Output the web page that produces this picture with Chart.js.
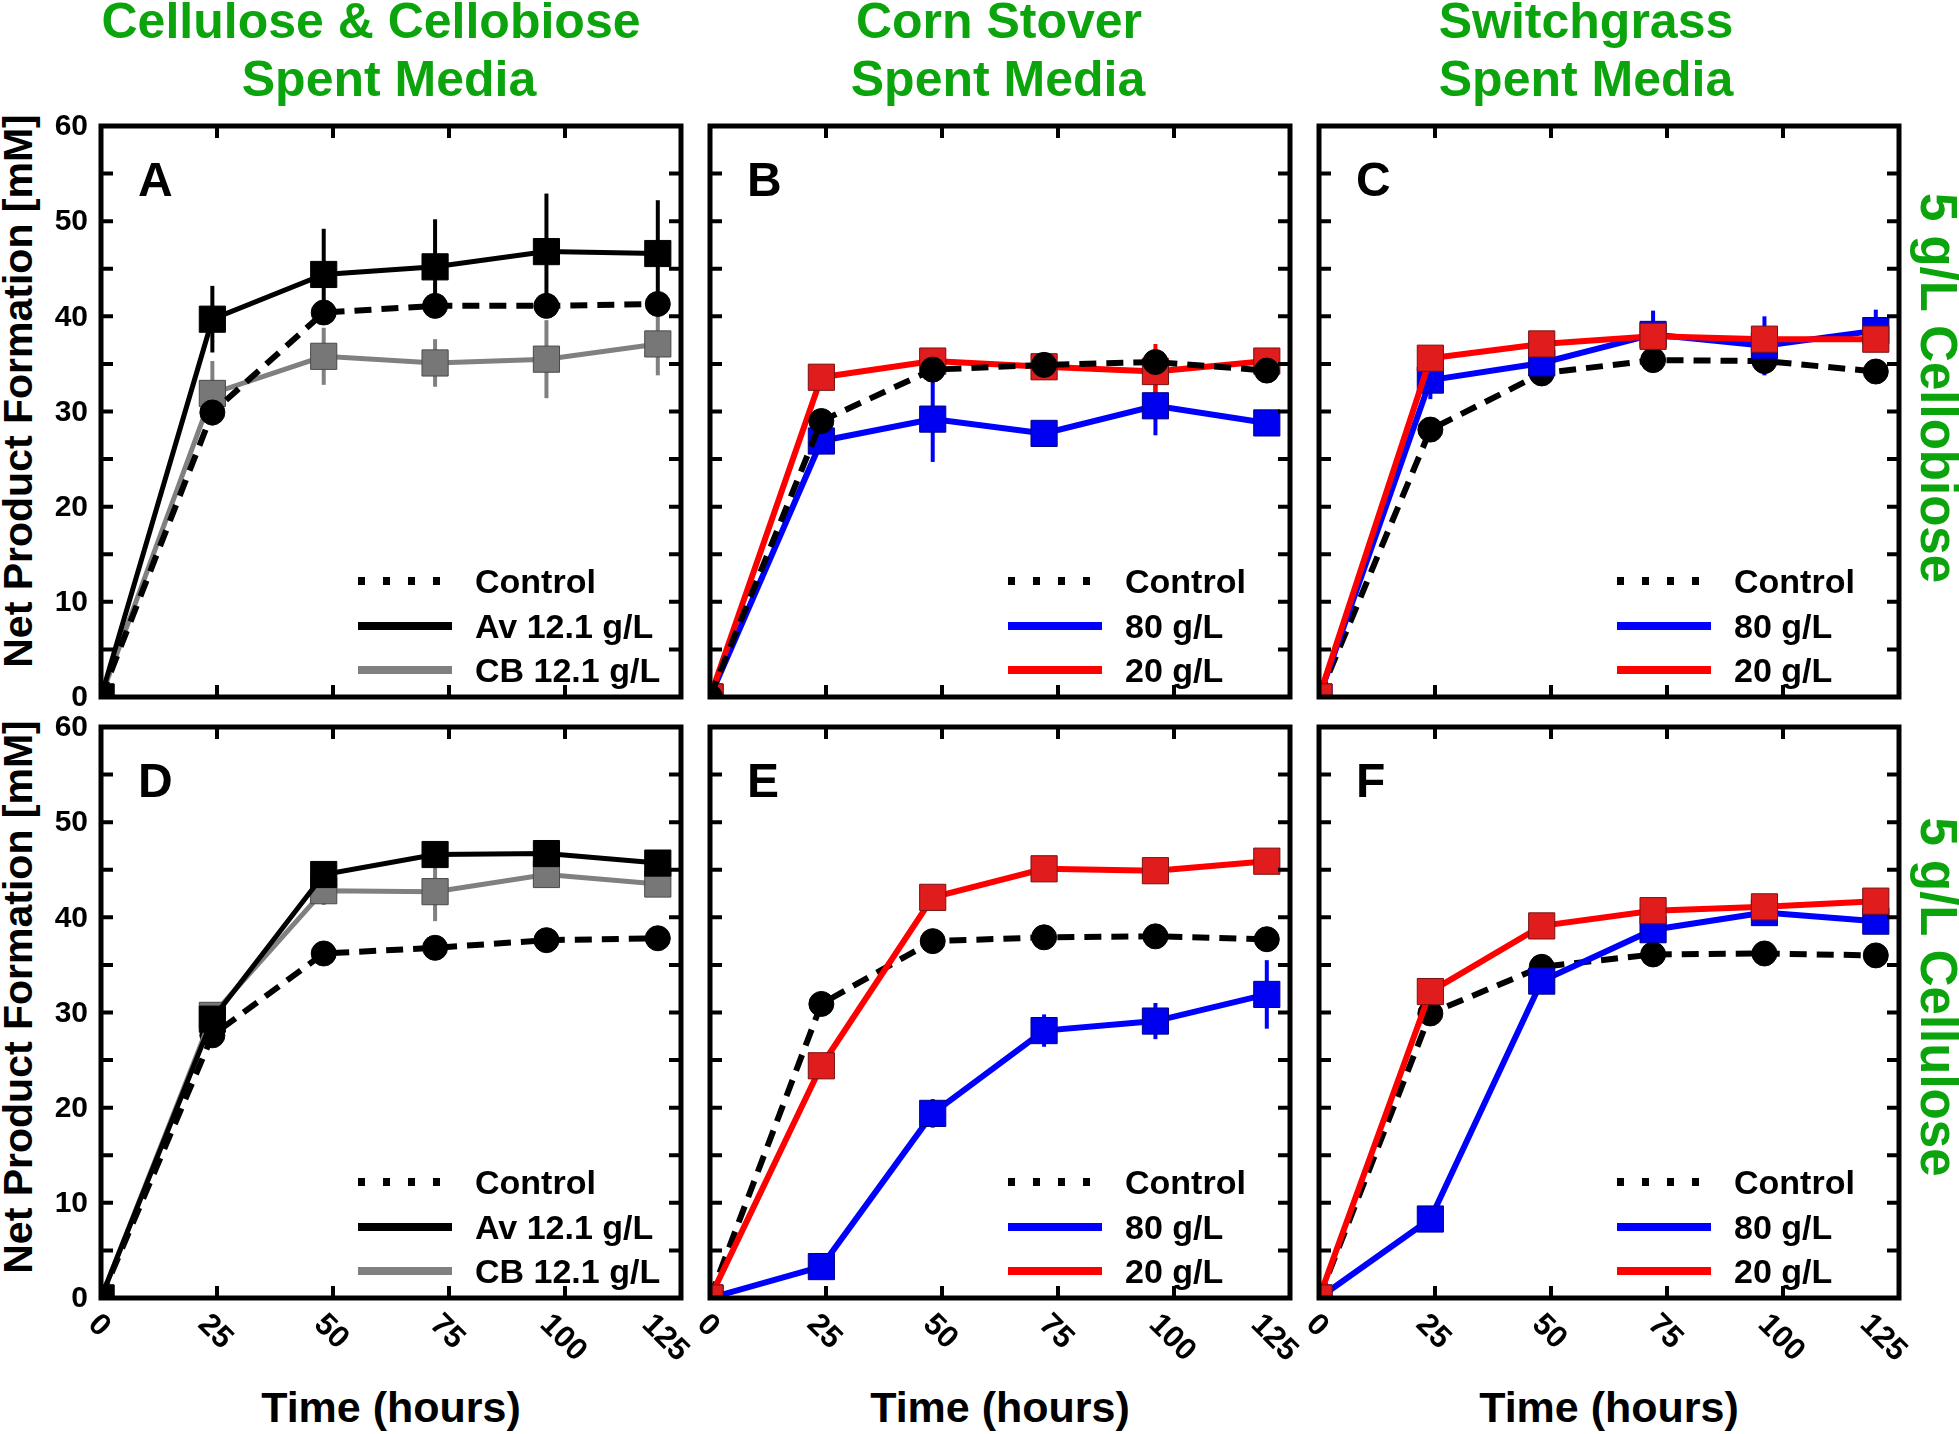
<!DOCTYPE html>
<html>
<head>
<meta charset="utf-8">
<script src="https://cdn.jsdelivr.net/npm/chart.js@4/dist/chart.umd.min.js"></script>
<style>
  body { margin: 0; width: 1959px; height: 1434px; background: #fff; position: relative; overflow: hidden;
         font-family: "Liberation Sans", Arial, sans-serif; font-weight: bold; }
  canvas { position: absolute; }
  .lbl { position: absolute; white-space: nowrap; line-height: 1; transform: translate(-50%, -50%); color: #000; }
  .green { color: #0ca40c; font-size: 50px; }
  .ylab { font-size: 41px; transform: translate(-50%, -50%) rotate(-90deg); }
  .rlab { font-size: 51px; transform: translate(-50%, -50%) rotate(90deg); }
  .xlab { font-size: 43px; }
</style>
</head>
<body>
<div class="lbl green" style="left:371px;top:21px">Cellulose &amp; Cellobiose</div>
<div class="lbl green" style="left:389px;top:79px">Spent Media</div>
<div class="lbl green" style="left:999px;top:21px">Corn Stover</div>
<div class="lbl green" style="left:998px;top:79px">Spent Media</div>
<div class="lbl green" style="left:1586px;top:21px">Switchgrass</div>
<div class="lbl green" style="left:1586px;top:79px">Spent Media</div>
<div class="lbl green rlab" style="left:1938px;top:388px">5 g/L Cellobiose</div>
<div class="lbl green rlab" style="left:1938px;top:997px">5 g/L Cellulose</div>
<div class="lbl ylab" style="left:18px;top:391px">Net Product Formation [mM]</div>
<div class="lbl ylab" style="left:18px;top:997px">Net Product Formation [mM]</div>
<div class="lbl xlab" style="left:391px;top:1407px">Time (hours)</div>
<div class="lbl xlab" style="left:1000px;top:1407px">Time (hours)</div>
<div class="lbl xlab" style="left:1609px;top:1407px">Time (hours)</div>

<script>
// sampling times (hours) and axis ticks
const times = [0, 24, 48, 72, 96, 120];
const xTickLabels = [0, 25, 50, 75, 100, 125];
const yTicks = [0, 5, 10, 15, 20, 25, 30, 35, 40, 45, 50, 55, 60];
const yTickLabels = [0, 10, 20, 30, 40, 50, 60];

// A - cellulose & cellobiose spent media, 5 g/L cellobiose
const ctrlA = [0, 29.9, 40.4, 41.1, 41.1, 41.3];
const avA = [0, 39.7, 44.4, 45.2, 46.8, 46.6];
const avAErr = [0, 3.5, 4.8, 5.0, 6.1, 5.6];
const cbA = [0, 31.9, 35.8, 35.1, 35.5, 37.1];
const cbAErr = [0, 3.4, 3.0, 2.5, 4.1, 3.3];

// B - corn stover, cellobiose
const ctrlB = [0, 29.0, 34.4, 34.9, 35.2, 34.3];
const s80B = [0, 26.9, 29.2, 27.7, 30.6, 28.8];
const s80BErr = [0, 1.0, 4.5, 0.8, 3.1, 0.8];
const s20B = [0, 33.6, 35.3, 34.7, 34.2, 35.3];
const s20BErr = [0, 0.8, 1.3, 0.8, 2.9, 0.6];

// C - switchgrass, cellobiose
const ctrlC = [0, 28.1, 34.0, 35.4, 35.3, 34.2];
const s80C = [0, 33.3, 35.1, 38.1, 36.9, 38.5];
const s80CErr = [0, 2.0, 1.0, 2.5, 3.1, 2.2];
const s20C = [0, 35.6, 37.1, 37.9, 37.6, 37.6];
const s20CErr = [0, 0.5, 0.5, 0.5, 0.5, 0.5];

// D - cellulose & cellobiose spent media, 5 g/L cellulose
const ctrlD = [0, 27.6, 36.2, 36.8, 37.6, 37.8];
const avD = [0, 29.3, 44.5, 46.6, 46.7, 45.7];
const avDErr = [0, 0.8, 0.8, 0.8, 0.8, 0.8];
const cbD = [0, 29.7, 42.8, 42.7, 44.5, 43.5];
const cbDErr = [0, 1.0, 1.5, 3.1, 0.8, 0.8];

// E - corn stover, cellulose
const ctrlE = [0, 30.9, 37.5, 37.9, 38.0, 37.7];
const s80E = [0, 3.3, 19.4, 28.1, 29.1, 31.9];
const s80EErr = [0, 0.5, 1.5, 1.7, 1.9, 3.6];
const s20E = [0, 24.4, 42.1, 45.1, 44.9, 45.9];
const s20EErr = [0, 0.5, 0.5, 0.5, 0.5, 0.5];

// F - switchgrass, cellulose
const ctrlF = [0, 29.9, 34.8, 36.1, 36.2, 36.0];
const s80F = [0, 8.3, 33.3, 38.7, 40.5, 39.6];
const s80FErr = [0, 0.5, 0.8, 0.8, 0.5, 0.5];
const s20F = [0, 32.2, 39.1, 40.7, 41.1, 41.7];
const s20FErr = [0, 0.5, 0.5, 0.5, 0.8, 0.5];

const FONT = '"Liberation Sans", Arial, sans-serif';
const colX = [101, 710, 1319];
const rowY = [126, 727];
const PW = 580, PH = 571;
const PAD = { left: 100, right: 20, top: 20, bottom: 110 };

const styles = {
  ctrl: { line: '#000', fill: '#000', edge: '#000', dash: [17, 10], width: 6, marker: 'circle', r: 12.5 },
  av:   { line: '#000', fill: '#000', edge: '#000', dash: [], width: 5, marker: 'rect', r: 18.5 },
  cb:   { line: '#808080', fill: '#777', edge: '#4a4a4a', dash: [], width: 5, marker: 'rect', r: 18.5 },
  g80:  { line: '#0000ff', fill: '#0000f0', edge: '#00008a', dash: [], width: 6, marker: 'rect', r: 18.5 },
  g20:  { line: '#ff0000', fill: '#e01c1c', edge: '#7a1010', dash: [], width: 6, marker: 'rect', r: 18.5 }
};

function series(label, vals, err, style, z) {
  return { label, vals, err, style, z };
}

const panels = [
  { letter: 'A', col: 0, row: 0, legendRight: 206, series: [
    series('Control', ctrlA, null, 'ctrl', 2),
    series('Av 12.1 g/L', avA, avAErr, 'av', 3),
    series('CB 12.1 g/L', cbA, cbAErr, 'cb', 1)] },
  { letter: 'B', col: 1, row: 0, legendRight: 165, series: [
    series('Control', ctrlB, null, 'ctrl', 3),
    series('80 g/L', s80B, s80BErr, 'g80', 1),
    series('20 g/L', s20B, s20BErr, 'g20', 2)] },
  { letter: 'C', col: 2, row: 0, legendRight: 165, series: [
    series('Control', ctrlC, null, 'ctrl', 1),
    series('80 g/L', s80C, s80CErr, 'g80', 2),
    series('20 g/L', s20C, s20CErr, 'g20', 3)] },
  { letter: 'D', col: 0, row: 1, legendRight: 206, series: [
    series('Control', ctrlD, null, 'ctrl', 1),
    series('Av 12.1 g/L', avD, avDErr, 'av', 3),
    series('CB 12.1 g/L', cbD, cbDErr, 'cb', 2)] },
  { letter: 'E', col: 1, row: 1, legendRight: 165, series: [
    series('Control', ctrlE, null, 'ctrl', 1),
    series('80 g/L', s80E, s80EErr, 'g80', 2),
    series('20 g/L', s20E, s20EErr, 'g20', 3)] },
  { letter: 'F', col: 2, row: 1, legendRight: 165, series: [
    series('Control', ctrlF, null, 'ctrl', 1),
    series('80 g/L', s80F, s80FErr, 'g80', 2),
    series('20 g/L', s20F, s20FErr, 'g20', 3)] }
];

// error bars under the lines, frame / ticks / labels / legend on top
const panelDeco = {
  id: 'panelDeco',
  beforeDatasetsDraw(chart) {
    const ctx = chart.ctx, xs = chart.scales.x, ys = chart.scales.y, a = chart.chartArea;
    ctx.save();
    ctx.beginPath();
    ctx.rect(a.left, a.top, a.right - a.left, a.bottom - a.top);
    ctx.clip();
    ctx.lineWidth = 4;
    chart.data.datasets.forEach(ds => {
      if (!ds.err) return;
      ctx.strokeStyle = ds.borderColor;
      ds.data.forEach((p, i) => {
        const e = ds.err[i];
        if (!e) return;
        const x = xs.getPixelForValue(p.x);
        ctx.beginPath();
        ctx.moveTo(x, ys.getPixelForValue(p.y - e));
        ctx.lineTo(x, ys.getPixelForValue(p.y + e));
        ctx.stroke();
      });
    });
    ctx.restore();
  },
  afterDraw(chart, args, opts) {
    const ctx = chart.ctx, xs = chart.scales.x, ys = chart.scales.y, a = chart.chartArea;
    const p = opts.panel;
    ctx.save();
    ctx.strokeStyle = '#000';
    ctx.fillStyle = '#000';

    // inward ticks on all four sides
    ctx.lineWidth = 4;
    ctx.beginPath();
    yTicks.forEach(v => {
      const y = ys.getPixelForValue(v);
      ctx.moveTo(a.left, y); ctx.lineTo(a.left + 12, y);
      ctx.moveTo(a.right, y); ctx.lineTo(a.right - 12, y);
    });
    xTickLabels.forEach(v => {
      const x = xs.getPixelForValue(v);
      ctx.moveTo(x, a.bottom); ctx.lineTo(x, a.bottom - 12);
      ctx.moveTo(x, a.top); ctx.lineTo(x, a.top + 12);
    });
    ctx.stroke();

    ctx.lineWidth = 5;
    ctx.lineJoin = 'miter';
    ctx.strokeRect(a.left, a.top, a.right - a.left, a.bottom - a.top);

    // y tick labels (left column only)
    if (p.col === 0) {
      ctx.font = 'bold 30px ' + FONT;
      ctx.textAlign = 'right';
      ctx.textBaseline = 'middle';
      yTickLabels.forEach(v => ctx.fillText(String(v), a.left - 13, ys.getPixelForValue(v) + 1));
    }

    // rotated x tick labels (bottom row only)
    if (p.row === 1) {
      ctx.font = 'bold 31px ' + FONT;
      ctx.textAlign = 'center';
      ctx.textBaseline = 'middle';
      xTickLabels.forEach((v, i) => {
        const t = String(v);
        const w = ctx.measureText(t).width;
        let cx = xs.getPixelForValue(v) - 2;
        if (i === xTickLabels.length - 1) cx -= 14;
        const cy = a.bottom + 14 + (w + 22) * 0.3536;
        ctx.save();
        ctx.translate(cx, cy);
        ctx.rotate(Math.PI / 4);
        ctx.fillText(t, 0, 0);
        ctx.restore();
      });
    }

    // panel letter
    ctx.font = 'bold 48px ' + FONT;
    ctx.textAlign = 'left';
    ctx.textBaseline = 'alphabetic';
    ctx.fillText(p.letter, a.left + 37, a.top + 70);

    // legend, bottom right inside the axes
    const textX = a.right - p.legendRight;
    const base = [104, 59, 15];
    ctx.font = 'bold 34px ' + FONT;
    p.series.forEach((s, i) => {
      const st = styles[s.style];
      const by = a.bottom - base[i];
      const ly = by - 12;
      ctx.save();
      ctx.strokeStyle = st.line;
      ctx.lineWidth = 8;
      ctx.lineCap = 'butt';
      ctx.setLineDash(st.dash.length ? [7, 18] : []);
      ctx.beginPath();
      ctx.moveTo(textX - 117, ly);
      ctx.lineTo(textX - 23, ly);
      ctx.stroke();
      ctx.restore();
      ctx.fillText(s.label, textX, by);
    });
    ctx.restore();
  }
};

panels.forEach(p => {
  const cv = document.createElement('canvas');
  const W = PW + PAD.left + PAD.right, H = PH + PAD.top + PAD.bottom;
  cv.width = W; cv.height = H;
  cv.style.width = W + 'px'; cv.style.height = H + 'px';
  cv.style.left = (colX[p.col] - PAD.left) + 'px';
  cv.style.top = (rowY[p.row] - PAD.top) + 'px';
  document.body.appendChild(cv);

  const datasets = p.series.map(s => {
    const st = styles[s.style];
    return {
      label: s.label,
      data: times.map((t, i) => ({ x: t, y: s.vals[i] })),
      err: s.err,
      borderColor: st.line,
      borderWidth: st.width,
      borderDash: st.dash,
      borderCapStyle: 'butt',
      pointStyle: st.marker,
      pointRadius: st.r,
      pointBackgroundColor: st.fill,
      pointBorderColor: st.edge,
      pointBorderWidth: 1,
      tension: 0,
      fill: false,
      clip: 0,
      order: 10 - s.z
    };
  });

  new Chart(cv, {
    type: 'line',
    data: { datasets },
    options: {
      responsive: false,
      animation: false,
      devicePixelRatio: 1,
      events: [],
      layout: { padding: PAD },
      plugins: { legend: { display: false }, tooltip: { enabled: false }, panelDeco: { panel: p } },
      scales: {
        x: { type: 'linear', min: xTickLabels[0], max: xTickLabels[xTickLabels.length - 1], display: false },
        y: { type: 'linear', min: yTicks[0], max: yTicks[yTicks.length - 1], display: false }
      }
    },
    plugins: [panelDeco]
  });
});
</script>
</body>
</html>
